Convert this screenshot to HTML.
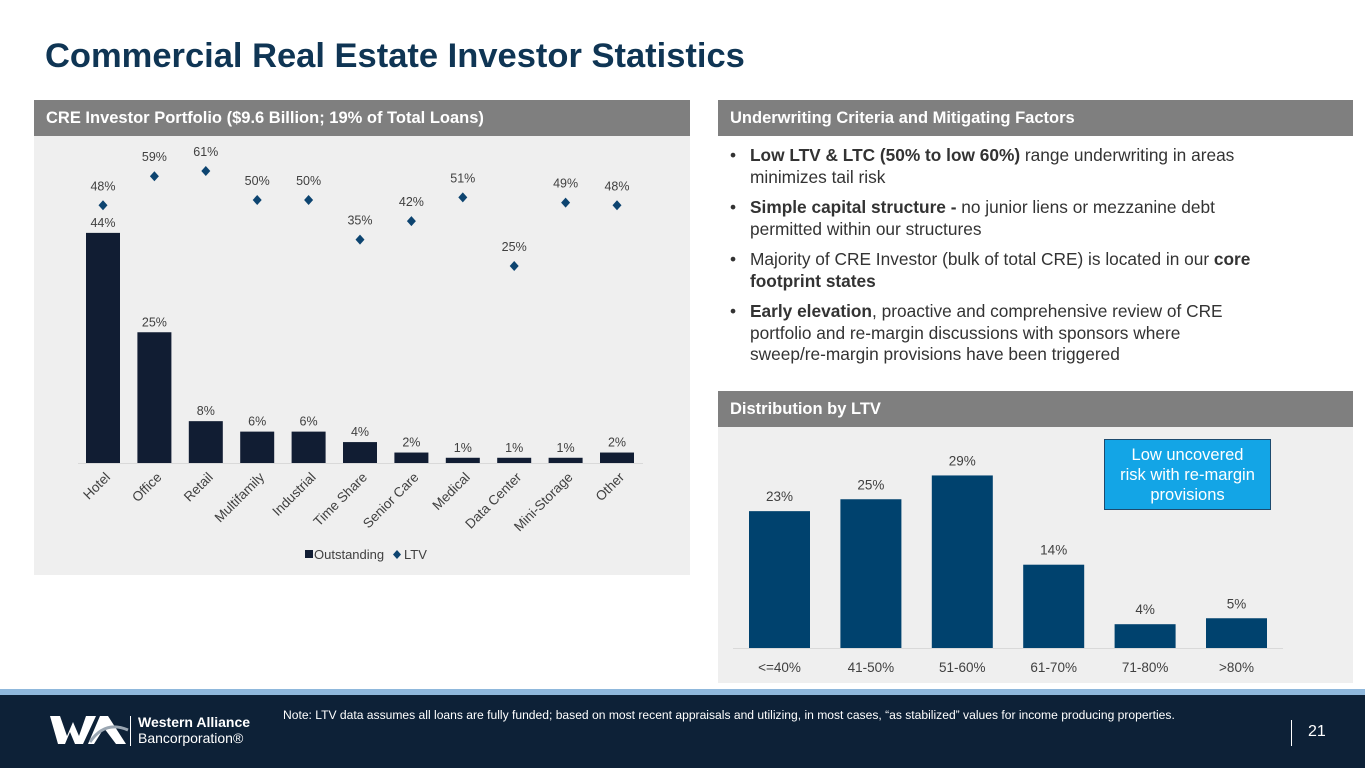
<!DOCTYPE html>
<html><head><meta charset="utf-8"><style>
*{margin:0;padding:0;box-sizing:border-box}
body{width:1365px;height:768px;position:relative;background:#fff;font-family:"Liberation Sans",sans-serif;overflow:hidden}
.abs{position:absolute}
.hdr{position:absolute;height:36px;background:#7f7f7f;color:#fff;font-weight:bold;font-size:16.5px;line-height:36px;padding-left:12px}
.bul{position:absolute;left:730px;width:530px;font-size:17.3px;line-height:21.5px;color:#333}
.bul li{list-style:none;padding-left:20px;position:relative;margin-bottom:9px}
.bul li:before{content:"•";position:absolute;left:0}
</style></head><body>
<div class="abs" style="left:45px;top:37px;font-size:34.5px;font-weight:bold;color:#0f3554">Commercial Real Estate Investor Statistics</div>

<div class="hdr" style="left:34px;top:100px;width:656px">CRE Investor Portfolio ($9.6 Billion; 19% of Total Loans)</div>
<div class="abs" style="left:34px;top:136px;width:656px;height:439px;background:#efefef"></div>
<svg class="abs" id="c1" style="left:0;top:0" width="700" height="580"></svg>

<div class="hdr" style="left:718px;top:100px;width:635px">Underwriting Criteria and Mitigating Factors</div>
<ul class="bul" style="top:145px">
<li><b>Low LTV &amp; LTC (50% to low 60%)</b> range underwriting in areas minimizes tail risk</li>
<li><b>Simple capital structure -</b> no junior liens or mezzanine debt permitted within our structures</li>
<li>Majority of CRE Investor (bulk of total CRE) is located in our <b>core footprint states</b></li>
<li><b>Early elevation</b>, proactive and comprehensive review of CRE portfolio and re-margin discussions with sponsors where sweep/re-margin provisions have been triggered</li>
</ul>

<div class="hdr" style="left:718px;top:391px;width:635px">Distribution by LTV</div>
<div class="abs" style="left:718px;top:427px;width:635px;height:256px;background:#efefef"></div>
<svg class="abs" id="c2" style="left:0;top:0" width="1365" height="690"></svg>
<div class="abs" style="left:1104px;top:439px;width:167px;height:71px;background:#13a5e6;border:1.5px solid #1d4a6e;color:#fff;font-size:16.5px;line-height:20px;text-align:center;padding:5px 14px 0">Low uncovered risk with re-margin provisions</div>

<div class="abs" style="left:0;top:689px;width:1365px;height:6px;background:#8fb8dc"></div>
<div class="abs" style="left:0;top:695px;width:1365px;height:73px;background:#0d2137"></div>
<svg class="abs" style="left:50px;top:714px" width="80" height="32" viewBox="0 0 80 32">
<polygon points="0,2 10,2 17,22 23,8 29,22 36,2 46,2 33,30 25,30 20,18 15,30 8,30" fill="#fff"/>
<polygon points="50,2 58,2 76,30 66,30 54,14 44,30 38,30" fill="#fff"/>
<path d="M40 28 Q55 6 78 16" stroke="#9aa6b2" stroke-width="3" fill="none"/>
</svg>
<div class="abs" style="left:130px;top:716px;width:1px;height:30px;background:#fff"></div>
<div class="abs" style="left:138px;top:714px;color:#fff;font-size:14px;line-height:16px"><b>Western Alliance</b><br>Bancorporation®</div>
<div class="abs" style="left:283px;top:708px;color:#fff;font-size:12.1px">Note: LTV data assumes all loans are fully funded; based on most recent appraisals and utilizing, in most cases, “as stabilized” values for income producing properties.</div>
<div class="abs" style="left:1291px;top:720px;width:1px;height:26px;background:#fff"></div>
<div class="abs" style="left:1308px;top:723px;color:#fff;font-size:16px">21</div>

<script>
const cats=["Hotel","Office","Retail","Multifamily","Industrial","Time Share","Senior Care","Medical","Data Center","Mini-Storage","Other"];
const outstanding=[44,25,8,6,6,4,2,1,1,1,2];
const ltv=[48,59,61,50,50,35,42,51,25,49,48];
const ltvBands=["<=40%","41-50%","51-60%","61-70%","71-80%",">80%"];
const ltvShares=[23,25,29,14,4,5];
const NS="http://www.w3.org/2000/svg";
function mk(p,t,a,txt){const e=document.createElementNS(NS,t);for(const k in a)e.setAttribute(k,a[k]);if(txt!==undefined)e.textContent=txt;p.appendChild(e);return e;}
// chart 1
const s1=document.getElementById('c1');
const x1=i=>103+i*51.4, yB=v=>463-v*5.23, yL=v=>332-v*2.64;
mk(s1,'line',{x1:78,x2:643,y1:463.5,y2:463.5,stroke:'#d9d9d9'});
cats.forEach((c,i)=>{
 const b=mk(s1,'rect',{x:x1(i)-17,y:yB(outstanding[i]),width:34,height:outstanding[i]*5.23,fill:'#111d33'});
 
 
 mk(s1,'text',{x:x1(i),y:yB(outstanding[i])-6,'text-anchor':'middle','font-size':12.5,fill:'#404040'},outstanding[i]+'%');
 const y=yL(ltv[i]);
 const d=mk(s1,'polygon',{points:`${x1(i)},${y-5} ${x1(i)+4.5},${y} ${x1(i)},${y+5} ${x1(i)-4.5},${y}`,fill:'#0d4470'});
 
 
 mk(s1,'text',{x:x1(i),y:y-15,'text-anchor':'middle','font-size':12.5,fill:'#404040'},ltv[i]+'%');
 mk(s1,'text',{x:x1(i)+8,y:478,'text-anchor':'end','font-size':13.5,fill:'#404040',transform:`rotate(-45 ${x1(i)+8} 478)`},c);
});
mk(s1,'rect',{x:305,y:550,width:8,height:8,fill:'#111d33'});
mk(s1,'text',{x:314,y:559,'font-size':13,fill:'#404040'},'Outstanding');
mk(s1,'polygon',{points:'397,550 401,554.5 397,559 393,554.5',fill:'#0d4470'});
mk(s1,'text',{x:404,y:559,'font-size':13,fill:'#404040'},'LTV');
// chart 2
const s2=document.getElementById('c2');
const x2=i=>779.5+i*91.4, y2=v=>648-v*5.95;
mk(s2,'line',{x1:733,x2:1283,y1:648.5,y2:648.5,stroke:'#d9d9d9'});
ltvBands.forEach((c,i)=>{
 const b=mk(s2,'rect',{x:x2(i)-30.5,y:y2(ltvShares[i]),width:61,height:ltvShares[i]*5.95,fill:'#00426e'});
 
 
 mk(s2,'text',{x:x2(i),y:y2(ltvShares[i])-10,'text-anchor':'middle','font-size':13.5,fill:'#404040'},ltvShares[i]+'%');
 mk(s2,'text',{x:x2(i),y:672,'text-anchor':'middle','font-size':13.5,fill:'#404040'},c);
});
</script>
</body></html>
